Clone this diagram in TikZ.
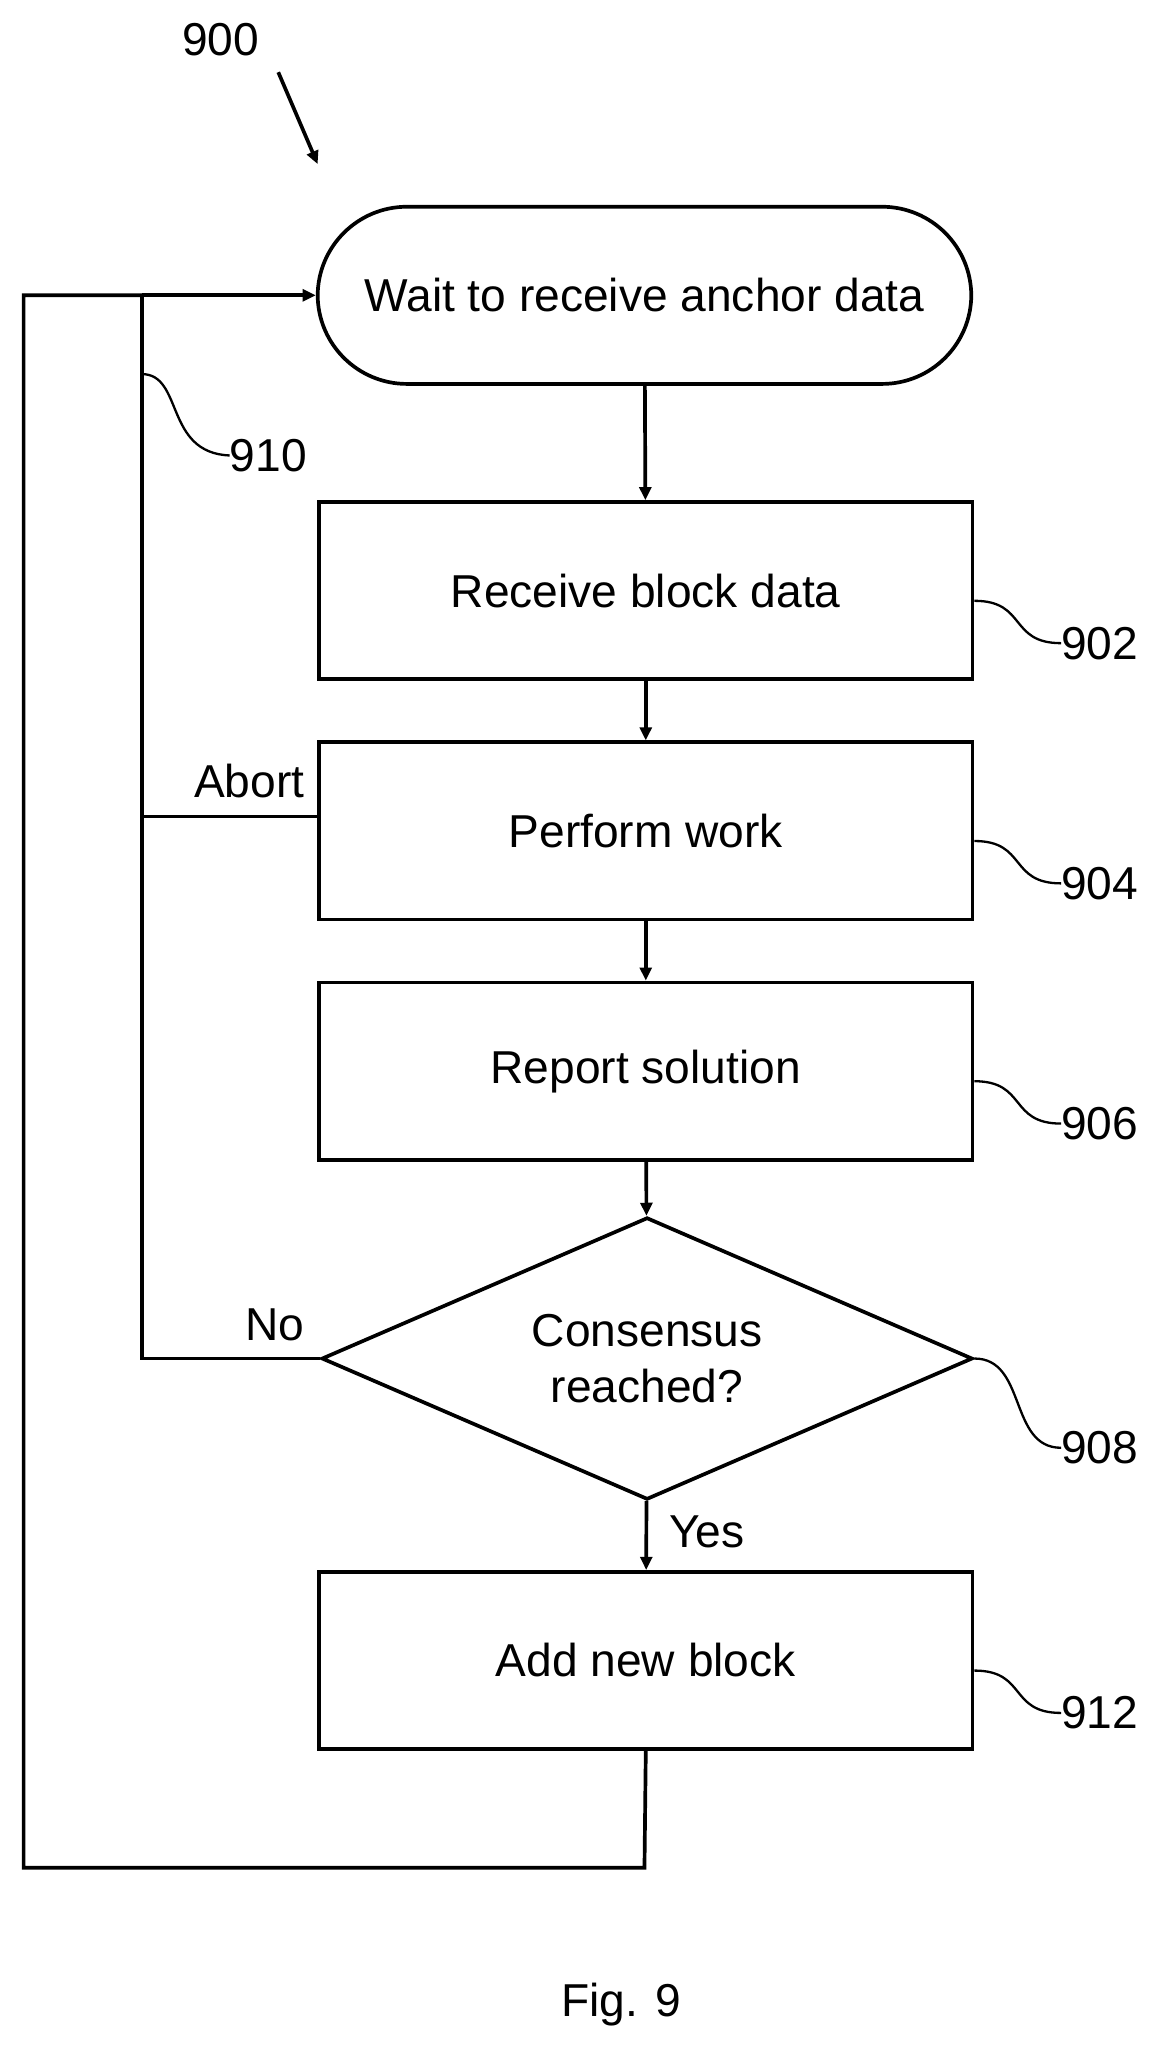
\documentclass[tikz,border=0pt]{standalone}
\usepackage{fontspec}
\setmainfont{Liberation Sans}
\usetikzlibrary{shapes.geometric,arrows.meta}
\tikzset{
  stage/.style={draw, line width=8pt, minimum width=49.8cm, minimum height=13.5cm, inner sep=0pt},
  flow/.style={line width=8pt, -{Triangle[length=1cm,width=0.9cm]}},
  wire/.style={line width=8pt},
  lead/.style={line width=5pt},
  ref/.style={inner sep=0pt, anchor=west}
}
\begin{document}
\begin{tikzpicture}[x=0.1cm, y=-0.1cm, font=\fontsize{100}{120}\selectfont]
    \useasboundingbox (0,0) rectangle (880,1558);
    % Etapes
    \node[stage, rounded corners=6.8cm] (wait) at (491,225) {Wait to receive anchor data};
    \node[stage] (recv) at (492,450) {Receive block data};
    \node[stage] (work) at (492,633) {Perform work};
    \node[stage] (rep) at (492,816) {Report solution};
    \node[draw, line width=8pt, diamond, aspect=2.3, minimum width=49.6cm, minimum height=21.5cm, inner sep=0pt,
      align=center] (cons) at (493,1035) {Consensus\\reached?};
    \node[stage] (add) at (492,1265) {Add new block};

    % Fleches
    \draw[flow] (wait) -- (recv);
    \draw[flow] (recv) -- (work);
    \draw[flow] (work) -- (rep);
    \draw[flow] (rep) -- (cons);
    \draw[flow] (cons) -- (add) node[pos=0.45, right=1.5cm] {Yes};

    % Retours
    \coordinate (lb) at (491,1423);
    \coordinate (lc) at (18,1423);
    \coordinate (lt) at (18,225);
    \coordinate (jt) at (108,225);
    \coordinate (ja) at (108,622);
    \coordinate (jn) at (108,1035);
    \draw[wire] (add.south) -- (lb) -- (lc) -- (lt) -- (jt);
    \draw[flow] (jt) -- (wait.west);
    \draw[wire] (jt) -- (jn) -- (cons.west);
    \draw[wire] (ja) -- (ja -| work.west);
    \node[anchor=south east, inner sep=0pt] (abort) at (232,608) {Abort};
    \node[anchor=south east, inner sep=0pt] (no) at (232,1022) {No};

    % Reperes
    \node[inner sep=0pt] (n900) at (168,30) {900};
    \draw[flow] (212,55) -- (242,125);
    \node[ref] (n910) at (175,347) {910};
    \draw[lead] (108,285) .. controls (140,285) and (125,345) .. (n910.west);
    \foreach \b/\n in {recv/902, work/904, rep/906, add/912} {
      \node[ref] (r\n) at ([shift={(66,40)}]\b.east) {\n};
      \draw[lead] ([yshift=-22]\b.east) .. controls +(40,0) and +(-40,0) .. (r\n.west);
    }
    \node[ref] (r908) at ([shift={(66,68)}]cons.east) {908};
    \draw[lead] (cons.east) .. controls +(40,0) and +(-40,0) .. (r908.west);

    \node (fig) at (473,1527) {Fig. 9};
\end{tikzpicture}
\end{document}
